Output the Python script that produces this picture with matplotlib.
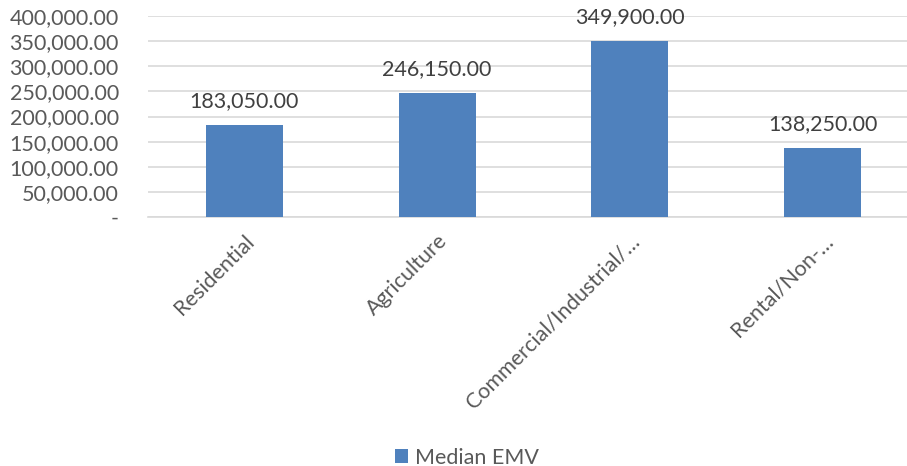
import matplotlib.pyplot as plt
from matplotlib.ticker import FuncFormatter

categories = ['Residential', 'Agriculture', 'Commercial/Industrial/…', 'Rental/Non-…']
median_emv = [183050.00, 246150.00, 349900.00, 138250.00]

bar_color = '#4F81BD'
text_color = '#595959'

plt.rcParams['font.family'] = ['Lato', 'DejaVu Sans']

fig = plt.figure(figsize=(9.07, 4.66), dpi=100)
# plot area runs a little past the right edge of the canvas
ax = fig.add_axes([148 / 907, 1 - 217 / 466, 771 / 907, (217 - 16) / 466])

x = range(len(categories))
ax.bar(x, median_emv, width=0.4, color=bar_color, label='Median EMV', zorder=3)

# value labels above each bar
for xi, v in zip(x, median_emv):
    ax.annotate(f'{v:,.2f}', (xi, v), xytext=(0, 10), textcoords='offset points',
                ha='center', va='bottom', fontsize=15.5, color='#404040')

ax.set_xlim(-0.5, len(categories) - 0.5)
ax.set_ylim(0, 400000)
ax.set_yticks(range(0, 400001, 50000))
ax.yaxis.set_major_formatter(FuncFormatter(lambda v, p: '-' if v == 0 else f'{v:,.2f}'))
ax.grid(axis='y', color='#D9D9D9', linewidth=1.2, zorder=0)
ax.set_axisbelow(True)

for s in ['top', 'right', 'left']:
    ax.spines[s].set_visible(False)
ax.spines['bottom'].set_color('#D9D9D9')
ax.spines['bottom'].set_linewidth(1.2)

ax.tick_params(axis='both', length=0, colors=text_color, labelsize=15.5)
ax.tick_params(axis='y', pad=21)
ax.set_xticks(list(x))
ax.set_xticklabels(categories, rotation=45, ha='right', rotation_mode='anchor')
ax.tick_params(axis='x', pad=10)

fig.legend(loc='lower center', bbox_to_anchor=(0.515, -0.045), frameon=False, fontsize=15.5,
           handlelength=0.6, handleheight=0.6, handletextpad=0.3, labelcolor=text_color)

fig.savefig('out.png', dpi=100)
